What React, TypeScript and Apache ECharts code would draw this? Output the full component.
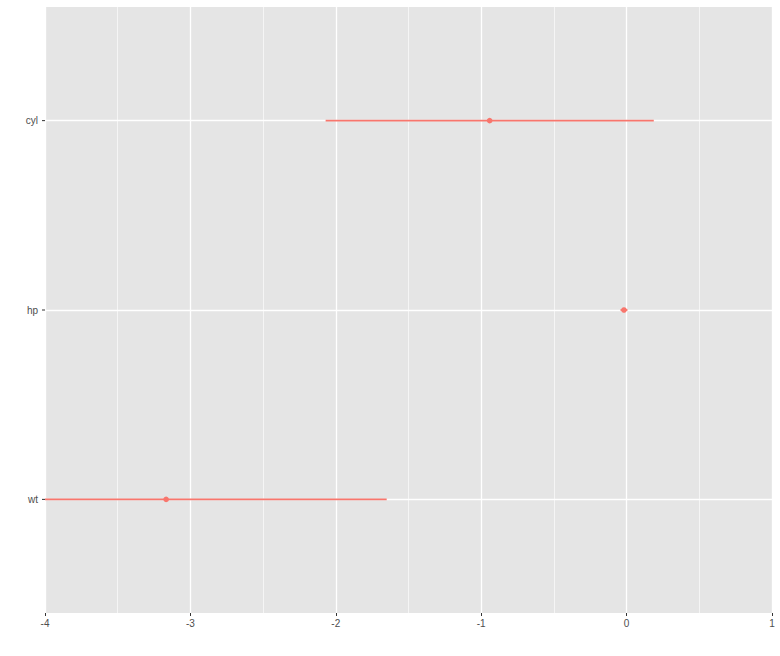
import React, { useEffect, useRef } from "react";
import * as echarts from "echarts";

const terms = ["wt", "hp", "cyl"];
const estimates = [-3.167, -0.018, -0.942];
const lowerCI = [-4.684, -0.042, -2.070];
const upperCI = [-1.650, 0.006, 0.187];
const xTicks = [-4, -3, -2, -1, 0, 1];

export default function App() {
  const ref = useRef<HTMLDivElement>(null);
  useEffect(() => {
    document.body.style.margin = "0";
    const chart = echarts.init(ref.current!, null, { renderer: "svg" });
    const data = terms.map((t, i) => [i + 1, estimates[i], lowerCI[i], upperCI[i]]);
    const tickData = terms.map((t, i) => [i + 1, xTicks[0]]);
    const option: any = {
      animation: false,
      backgroundColor: "#FFFFFF",
      textStyle: { fontFamily: "Liberation Sans, Arial, sans-serif" },
      grid: {
        left: 45,
        right: 8,
        top: 7,
        bottom: 43,
        show: true,
        backgroundColor: "#E5E5E5",
        borderWidth: 0,
      },
      xAxis: {
        type: "value",
        min: xTicks[0],
        max: xTicks[xTicks.length - 1],
        interval: 1,
        axisLine: { show: false },
        axisTick: { show: true, length: 3, lineStyle: { color: "#333333", width: 1 } },
        axisLabel: { color: "#4D4D4D", fontSize: 10, margin: 5 },
        splitLine: { show: true, lineStyle: { color: "#FFFFFF", width: 1.3 } },
        minorTick: { show: false, splitNumber: 2 },
        minorSplitLine: { show: true, lineStyle: { color: "#FFFFFF", width: 0.6 } },
      },
      yAxis: {
        type: "value",
        min: 0.4,
        max: terms.length + 0.6,
        axisLine: { show: false },
        axisTick: {
          show: false,
          customValues: terms.map((_, i) => i + 1),
        },
        axisLabel: {
          color: "#4D4D4D",
          fontSize: 10,
          margin: 7,
          customValues: terms.map((_, i) => i + 1),
          formatter: (v: number) => terms[Math.round(v) - 1] ?? "",
        },
        splitLine: { show: true, lineStyle: { color: "#FFFFFF", width: 1.3 } },
      },
      series: [
        {
          type: "custom",
          clip: false,
          silent: true,
          data: tickData,
          encode: { x: 1, y: 0 },
          renderItem: (params: any, api: any) => {
            const p = api.coord([api.value(1), api.value(0)]);
            return {
              type: "line",
              shape: { x1: p[0] - 3, y1: p[1], x2: p[0], y2: p[1] },
              style: { stroke: "#333333", lineWidth: 1 },
            };
          },
        },
        {
          type: "custom",
          clip: true,
          data,
          encode: { x: [1, 2, 3], y: 0 },
          renderItem: (params: any, api: any) => {
            const y = api.value(0);
            const est = api.coord([api.value(1), y]);
            const lo = api.coord([api.value(2), y]);
            const hi = api.coord([api.value(3), y]);
            return {
              type: "group",
              children: [
                {
                  type: "line",
                  shape: { x1: lo[0], y1: lo[1], x2: hi[0], y2: hi[1] },
                  style: { stroke: "#F8766D", lineWidth: 1.8 },
                },
                {
                  type: "circle",
                  shape: { cx: est[0], cy: est[1], r: 2.8 },
                  style: { fill: "#F8766D" },
                },
              ],
            };
          },
        },
      ],
    };
    chart.setOption(option);
    return () => chart.dispose();
  }, []);
  return (
    <div
      ref={ref}
      style={{ position: "absolute", left: 0, top: 0, width: 780, height: 656 }}
    />
  );
}
